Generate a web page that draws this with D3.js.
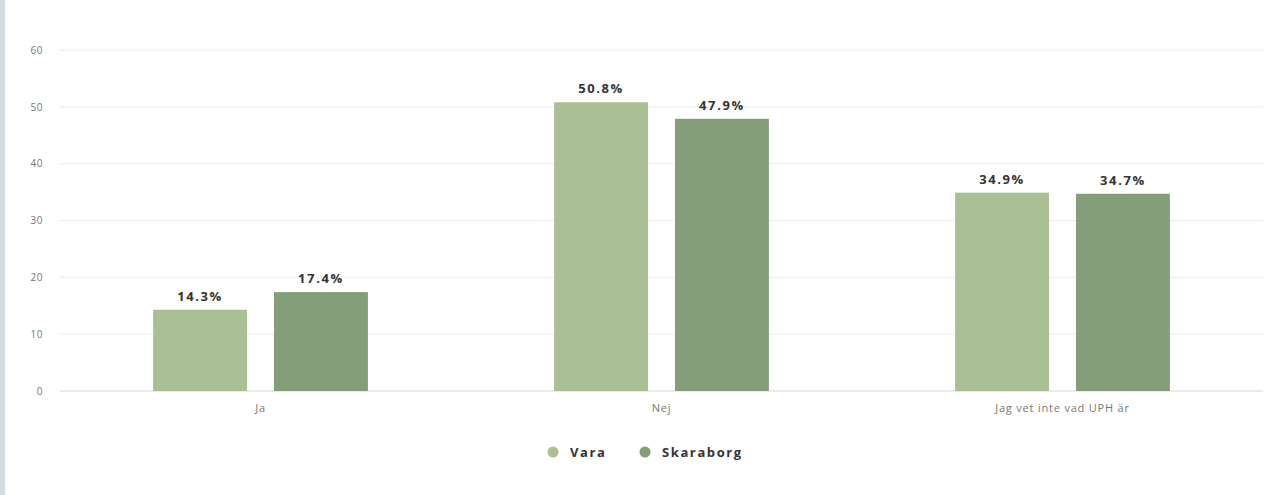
<!DOCTYPE html>
<html><head><meta charset="utf-8">
<script src="https://cdn.jsdelivr.net/npm/d3@7"></script>
<style>body{margin:0;background:#fff;font-family:"Open Sans",Lato,sans-serif;}</style>
</head><body>
<svg id="c" width="1271" height="495"></svg>
<script>
const categories = ["Ja", "Nej", "Jag vet inte vad UPH är"];
const seriesNames = ["Vara", "Skaraborg"];
const vara = [14.3, 50.8, 34.9];
const skaraborg = [17.4, 47.9, 34.7];
const yTicks = [0, 10, 20, 30, 40, 50, 60];
const colors = ["#abbf95", "#839e78"];

(function(){
const svg = d3.select("#c");
svg.append("rect").attr("x",0).attr("y",0).attr("width",5).attr("height",495).attr("fill","#d3dcdf");

const mLeft = 60, mRight = 1263, mTop = 50, mBottom = 391;
const x = d3.scaleBand().domain(categories).range([mLeft, mRight]);
const x1 = d3.scaleBand().domain(seriesNames).range([0, x.bandwidth()]).paddingInner(0.223).paddingOuter(0.77);
const y = d3.scaleLinear().domain([0, 60]).range([mBottom, mTop]);

const grid = svg.append("g");
grid.selectAll("line").data(yTicks).join("line")
  .attr("x1", mLeft).attr("x2", mRight)
  .attr("y1", d => y(d)).attr("y2", d => y(d))
  .attr("stroke", d => d === 0 ? "#d6d6d6" : "#ececec").attr("stroke-width", 1);

const yAxis = d3.axisLeft(y).tickValues(yTicks).tickSize(0).tickPadding(0);
const ya = svg.append("g").attr("transform", `translate(${mLeft-17},0)`).call(yAxis);
ya.select(".domain").remove();
ya.selectAll("text").attr("fill", "#777").style("font-size", "10px").style("letter-spacing","0.5px").style("font-family", "Open Sans");

const data = categories.map((c, i) => ({cat: c, vals: [vara[i], skaraborg[i]]}));
const g = svg.selectAll("g.cat").data(data).join("g").attr("class","cat")
  .attr("transform", d => `translate(${x(d.cat)},0)`);
g.selectAll("rect").data(d => d.vals.map((v, j) => ({s: seriesNames[j], v, j}))).join("rect")
  .attr("x", d => x1(d.s)).attr("width", x1.bandwidth())
  .attr("y", d => y(d.v)).attr("height", d => mBottom - y(d.v))
  .attr("fill", d => colors[d.j]);
g.selectAll("text.val").data(d => d.vals.map((v, j) => ({s: seriesNames[j], v, j}))).join("text")
  .attr("class","val")
  .attr("x", d => x1(d.s) + x1.bandwidth()/2).attr("y", d => y(d.v) - 9)
  .attr("text-anchor","middle").attr("fill","#333")
  .style("font-size","13px").style("font-weight","bold").style("letter-spacing","1.6px").style("font-family","Open Sans")
  .text(d => d.v.toFixed(1) + "%");

const xAxis = d3.axisBottom(x).tickSize(0).tickPadding(0);
const xa = svg.append("g").attr("transform", `translate(0,${mBottom+21})`).call(xAxis);
xa.select(".domain").remove();
xa.selectAll("text").attr("fill","#777").attr("dy","0").style("font-size","11px").style("letter-spacing","0.8px").style("font-family","Open Sans");

const legX = [553, 645];
const leg = svg.append("g");
seriesNames.forEach((s, i) => {
  leg.append("circle").attr("cx", legX[i]).attr("cy", 452).attr("r", 5.5).attr("fill", colors[i]);
  leg.append("text").attr("x", legX[i] + 17).attr("y", 456.5).attr("fill","#333")
    .style("font-size","13px").style("font-weight","bold").style("letter-spacing","1.6px").style("font-family","Open Sans").text(s);
});
})();
</script>
</body></html>
